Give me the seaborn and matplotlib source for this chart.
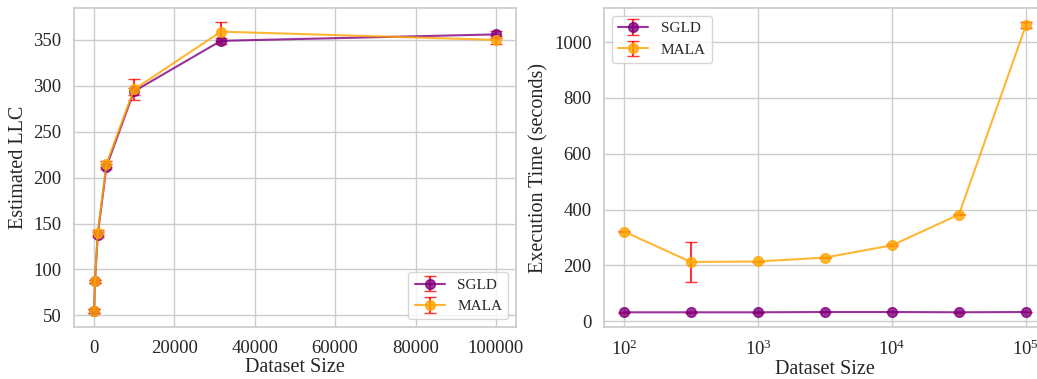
import numpy as np
import matplotlib
matplotlib.use("Agg")
import matplotlib.pyplot as plt
import seaborn as sns

sizes = [100, 316, 1000, 3162, 10000, 31623, 100000]

sgld_llc = [55, 87, 138, 212, 294, 349, 356]
sgld_llc_err = [2, 2, 3, 3, 4, 3, 4]
mala_llc = [55, 87, 140, 215, 296, 359, 350]
mala_llc_err = [2, 2, 3, 3, 11, 10, 4]

sgld_time = [32, 32, 32, 33, 33, 32, 33]
sgld_time_err = [1, 1, 1, 1, 1, 1, 1]
mala_time = [321, 212, 214, 228, 272, 382, 1060]
mala_time_err = [3, 72, 3, 3, 3, 3, 10]

sns.set_theme(style="whitegrid")
plt.rcParams['font.family'] = ['Liberation Serif', 'DejaVu Serif']
plt.rcParams['mathtext.fontset'] = 'stix'

fig, axes = plt.subplots(1, 2, figsize=(10.37, 3.79), dpi=100)

def draw(ax, y1, e1, y2, e2):
    ax.errorbar(sizes, y1, yerr=e1, fmt='-o', color='purple', ecolor='red',
                elinewidth=1.5, capsize=4, markersize=7, alpha=0.8, label='SGLD')
    ax.errorbar(sizes, y2, yerr=e2, fmt='-o', color='orange', ecolor='red',
                elinewidth=1.5, capsize=4, markersize=7, alpha=0.8, label='MALA')
    ax.tick_params(labelsize=13.5, pad=3)
    ax.set_xlabel('Dataset Size', fontsize=14.5, labelpad=1)

ax = axes[0]
draw(ax, sgld_llc, sgld_llc_err, mala_llc, mala_llc_err)
ax.set_ylabel('Estimated LLC', fontsize=14.5)
ax.set_yticks([50, 100, 150, 200, 250, 300, 350])
ax.legend(loc='lower right', fontsize=11)

ax = axes[1]
draw(ax, sgld_time, sgld_time_err, mala_time, mala_time_err)
ax.set_xscale('log')
ax.set_ylabel('Execution Time (seconds)', fontsize=14.5)
ax.set_yticks([0, 200, 400, 600, 800, 1000])
ax.legend(loc='upper left', fontsize=11)

fig.subplots_adjust(left=0.0714, right=1.0087, bottom=0.137, top=0.979, wspace=0.199)
fig.savefig('out.png')
